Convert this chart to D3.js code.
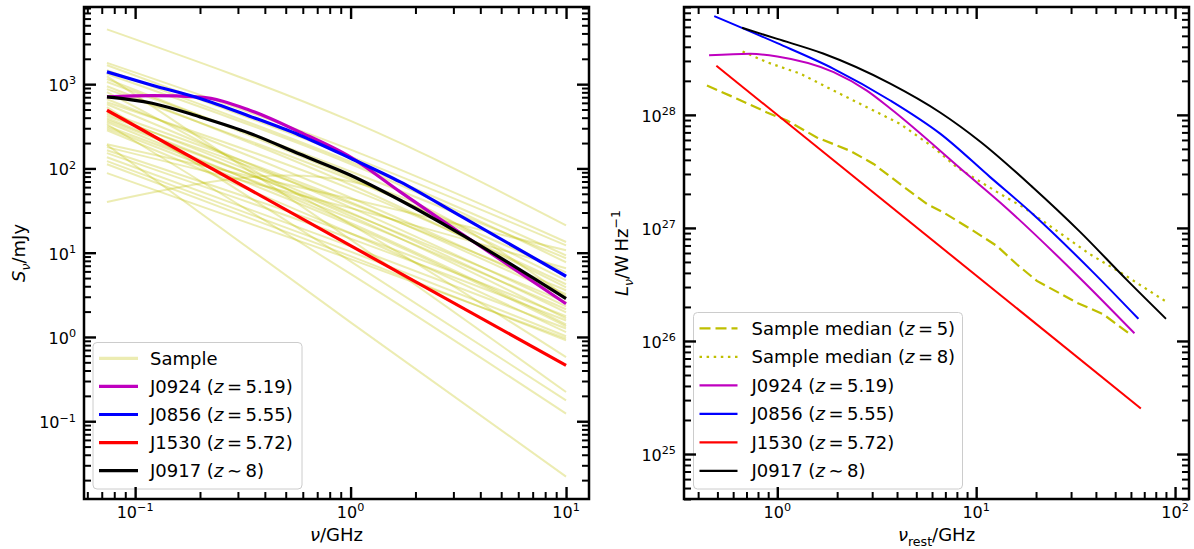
<!DOCTYPE html>
<html>
<head>
<meta charset="utf-8">
<script src="https://cdn.jsdelivr.net/npm/d3@7"></script>
<style>
body { margin: 0; background: #fff; }
svg text { font-family: "DejaVu Sans", sans-serif; fill: #000; }
</style>
</head>
<body>
<div id="chart"></div>
<script>
// ---- left panel: observed-frame flux density (mJy) vs frequency (GHz)
var obsFreq   = [0.074, 0.12, 0.2, 0.34, 0.58, 1, 1.7, 3.2, 10];
var fluxJ0924 = [706, 730, 701, 491, 271, 136, 52.6, 17.5, 2.48];
var fluxJ0856 = [1400, 973, 676, 417, 248, 132, 69.2, 27.7, 5.25];
var fluxJ0917 = [706, 594, 409, 262, 148, 83, 41.9, 17.0, 2.85];
var freqJ1530 = [0.074, 10];
var fluxJ1530 = [490, 0.46];

// sample sources, flux at sampleFreq
var sampleFreq = [0.074, 1, 10];
var sampleFlux = [
    [4470, 366, 21.1], [190, 1.49, 0.022], [40, 70, 3.0],
    [1790, 167, 13.4], [1680, 138, 12.2], [1470, 120, 9.3],
    [1320, 113, 7.7], [1240, 14.3, 0.222], [1150, 78, 4.7],
    [1060, 92, 8.6], [946, 64, 3.88], [873, 74, 5.85],
    [804, 21.7, 0.577], [664, 44.9, 3.21], [611, 57.3, 4.22],
    [578, 34.5, 2.31], [533, 7.9, 0.177], [465, 39.8, 2.95],
    [441, 29.9, 1.96], [417, 38.3, 3.58], [394, 27.2, 1.66],
    [373, 29.1, 2.58], [354, 22.6, 1.41], [335, 5.6, 0.123],
    [317, 25.5, 2.13], [300, 21.3, 1.34], [284, 17.0, 1.14],
    [194, 43.6, 10.7], [179, 33.8, 6.53], [164, 16.9, 1.76],
    [152, 14.7, 1.57], [136, 11.9, 1.26], [122, 10.3, 1.02],
    [112, 9.1, 0.91], [88, 8.4, 0.96]
];

// ---- right panel: rest-frame luminosity (W/Hz) vs rest frequency (GHz)
var restJ0924 = [0.454, 0.732, 1.0, 1.92, 2.82, 3.70, 8.98, 13.2, 33.1, 62.5];
var lumJ0924  = [3.36e28, 3.47e28, 3.29e28, 2.39e28, 1.64e28, 1.14e28, 3.00e27, 1.68e27, 3.63e26, 1.17e26];
var restJ0856 = [0.482, 1.0, 1.91, 3.70, 6.59, 11.8, 18.7, 38.1, 65.4];
var lumJ0856  = [7.48e28, 4.31e28, 2.57e28, 1.34e28, 6.82e27, 2.80e27, 1.39e27, 4.17e26, 1.57e26];
var restJ1530 = [0.494, 67.3];
var lumJ1530  = [2.72e28, 2.53e25];
var restJ0917 = [0.665, 1.0, 1.70, 3.70, 6.59, 10.5, 19.3, 33.3, 57.2, 90.1];
var lumJ0917  = [5.89e28, 4.70e28, 3.49e28, 1.89e28, 1.05e28, 5.79e27, 2.28e27, 9.23e26, 3.47e26, 1.57e26];
var restMedZ5 = [0.443, 0.627, 0.888, 1.12, 1.58, 2.33, 3.05, 4.15, 5.65, 6.85, 9.69, 12.7, 16.0, 20.2, 32.1, 43.6, 59.4];
var lumMedZ5  = [1.82e28, 1.39e28, 1.05e28, 8.90e27, 6.32e27, 4.80e27, 3.68e27, 2.44e27, 1.63e27, 1.37e27, 9.42e26, 6.93e26, 4.77e26, 3.40e26, 2.18e26, 1.72e26, 1.15e26];
var restMedZ8 = [0.669, 0.888, 1.31, 1.92, 2.82, 4.15, 6.1, 8.0, 13.2, 17.3, 37.3, 55, 89];
var lumMedZ8  = [3.64e28, 2.92e28, 2.31e28, 1.64e28, 1.17e28, 8.32e27, 5.16e27, 3.43e27, 2.00e27, 1.52e27, 5.86e26, 3.89e26, 2.26e26];
var lumLimits = [4e24, 9e28];

var W = 1194, H = 549;
var boxL = {left: 84, right: 589, top: 7, bottom: 499};
var boxR = {left: 684, right: 1189, top: 7, bottom: 499};

var svg = d3.select("#chart").append("svg")
    .attr("width", W)
    .attr("height", H);

function padLog(ext, frac) {
    var a = Math.log10(ext[0]), b = Math.log10(ext[1]);
    var p = (b - a) * frac;
    return [Math.pow(10, a - p), Math.pow(10, b + p)];
}

function logTicks(domain) {
    var major = [], minor = [];
    var k0 = Math.floor(Math.log10(domain[0])), k1 = Math.ceil(Math.log10(domain[1]));
    for (var k = k0; k <= k1; k++) {
        for (var m = 1; m < 10; m++) {
            var v = m * Math.pow(10, k);
            if (v < domain[0] * 0.9999 || v > domain[1] * 1.0001) continue;
            if (m == 1) major.push(v); else minor.push(v);
        }
    }
    return {major: major, minor: minor};
}

// text made of pieces: {t, it, sub, sup}
function addRich(textSel, parts, fs) {
    var shift = 0;
    parts.forEach(function(p) {
        var target = p.sup ? -0.42 * fs : (p.sub ? 0.25 * fs : 0);
        var ts = textSel.append("tspan")
            .text(p.t)
            .attr("dy", target - shift)
            .attr("font-size", (p.sup || p.sub) ? fs * 0.7 : fs);
        if (p.it) ts.attr("font-style", "italic");
        shift = target;
    });
}

function powLabel(v) {
    var e = Math.round(Math.log10(v));
    return [{t: "10"}, {t: String(e).replace("-", "\u2212"), sup: true}];
}

function drawTicks(g, x, y, box) {
    var xt = logTicks(x.domain()), yt = logTicks(y.domain());
    var sets = [
        [d3.axisBottom(x), box.bottom, xt, "x"],
        [d3.axisTop(x), box.top, xt, "x"],
        [d3.axisLeft(y), box.left, yt, "y"],
        [d3.axisRight(y), box.right, yt, "y"]
    ];
    sets.forEach(function(s) {
        var tr = s[3] == "x" ? "translate(0," + s[1] + ")" : "translate(" + s[1] + ",0)";
        var ax = s[0];
        g.append("g").attr("transform", tr)
            .call(ax.tickValues(s[2].minor).tickSize(-7).tickSizeOuter(0).tickFormat(""))
            .call(function(a) { a.select(".domain").remove(); })
            .selectAll(".tick line").attr("stroke", "#000").attr("stroke-width", 2);
        g.append("g").attr("transform", tr)
            .call(ax.tickValues(s[2].major).tickSize(-12).tickSizeOuter(0).tickFormat(""))
            .call(function(a) { a.select(".domain").remove(); })
            .selectAll(".tick line").attr("stroke", "#000").attr("stroke-width", 2.4);
    });

    // tick labels
    xt.major.forEach(function(v) {
        var t = g.append("text")
            .attr("x", x(v))
            .attr("y", box.bottom + 19)
            .attr("text-anchor", "middle")
            .attr("font-size", 16);
        addRich(t, powLabel(v), 16);
    });
    yt.major.forEach(function(v) {
        var t = g.append("text")
            .attr("x", box.left - 8)
            .attr("y", y(v) + 7)
            .attr("text-anchor", "end")
            .attr("font-size", 16);
        addRich(t, powLabel(v), 16);
    });

    g.append("rect")
        .attr("x", box.left)
        .attr("y", box.top)
        .attr("width", box.right - box.left)
        .attr("height", box.bottom - box.top)
        .attr("fill", "none")
        .attr("stroke", "#000")
        .attr("stroke-width", 2.5);
}

function drawSeries(g, x, y, xs, ys, style, curve) {
    var pts = xs.map(function(d, i) { return [d, ys[i]]; });
    var line = d3.line()
        .x(function(d) { return x(d[0]); })
        .y(function(d) { return y(d[1]); })
        .curve(curve || d3.curveMonotoneX);
    var p = g.append("path")
        .datum(pts)
        .attr("fill", "none")
        .attr("stroke", style.color)
        .attr("stroke-width", style.width)
        .attr("stroke-linecap", "butt")
        .attr("d", line);
    if (style.dash) p.attr("stroke-dasharray", style.dash);
    if (style.opacity) p.attr("stroke-opacity", style.opacity);
    return p;
}

function drawLegend(g, box, items, handle, textX, rowY) {
    g.append("rect")
        .attr("x", box.x).attr("y", box.y)
        .attr("width", box.w).attr("height", box.h)
        .attr("rx", 4)
        .attr("fill", "#fff").attr("fill-opacity", 0.8)
        .attr("stroke", "#cccccc").attr("stroke-width", 1);
    items.forEach(function(it, i) {
        var yy = rowY[0] + i * rowY[1];
        var l = g.append("line")
            .attr("x1", handle[0]).attr("x2", handle[1])
            .attr("y1", yy).attr("y2", yy)
            .attr("stroke", it.color)
            .attr("stroke-width", it.width);
        if (it.dash) l.attr("stroke-dasharray", it.dash);
        if (it.opacity) l.attr("stroke-opacity", it.opacity);
        var t = g.append("text")
            .attr("x", textX)
            .attr("y", yy + 6.5)
            .attr("font-size", 18);
        addRich(t, it.label, 18);
    });
}

function zLabel(name, rel, val) {
    return [{t: name + " ("}, {t: "z", it: true}, {t: "\u2009" + rel + "\u2009" + val + ")"}];
}

// ---------------- left panel
var gL = svg.append("g");
var allFlux = d3.merge([fluxJ0924, fluxJ0856, fluxJ0917, fluxJ1530, d3.merge(sampleFlux)]);
var xL = d3.scaleLog().domain(padLog([0.074, 10], 0.05)).range([boxL.left, boxL.right]);
var yL = d3.scaleLog().domain(padLog(d3.extent(allFlux), 0.05)).range([boxL.bottom, boxL.top]);

var sampleStyle = {color: "#bfbf00", width: 2, opacity: 0.3};
sampleFlux.forEach(function(s) {
    drawSeries(gL, xL, yL, sampleFreq, s, sampleStyle, d3.curveNatural);
});
drawSeries(gL, xL, yL, obsFreq, fluxJ0924, {color: "#bf00bf", width: 3.2});
drawSeries(gL, xL, yL, obsFreq, fluxJ0856, {color: "#0000ff", width: 3.2});
drawSeries(gL, xL, yL, freqJ1530, fluxJ1530, {color: "#ff0000", width: 3.2}, d3.curveLinear);
drawSeries(gL, xL, yL, obsFreq, fluxJ0917, {color: "#000000", width: 3.2});

drawLegend(gL, {x: 93, y: 342.5, w: 209, h: 146.5}, [
    {color: "#bfbf00", width: 3.2, opacity: 0.3, label: [{t: "Sample"}]},
    {color: "#bf00bf", width: 3.2, label: zLabel("J0924", "=", "5.19")},
    {color: "#0000ff", width: 3.2, label: zLabel("J0856", "=", "5.55")},
    {color: "#ff0000", width: 3.2, label: zLabel("J1530", "=", "5.72")},
    {color: "#000000", width: 3.2, label: zLabel("J0917", "\u223c", "8")}
], [99, 138], 150, [358.3, 28.1]);

drawTicks(gL, xL, yL, boxL);

var ylabL = gL.append("text")
    .attr("transform", "translate(25," + ((boxL.top + boxL.bottom) / 2) + ") rotate(-90)")
    .attr("text-anchor", "middle")
    .attr("font-size", 18);
addRich(ylabL, [{t: "S", it: true}, {t: "\u03bd", it: true, sub: true}, {t: "/mJy"}], 18);

var xlabL = gL.append("text")
    .attr("x", (boxL.left + boxL.right) / 2)
    .attr("y", 541)
    .attr("text-anchor", "middle")
    .attr("font-size", 18);
addRich(xlabL, [{t: "\u03bd", it: true}, {t: "/GHz"}], 18);

// ---------------- right panel
var gR = svg.append("g");
var allRest = d3.merge([restJ0924, restJ0856, restJ1530, restJ0917, restMedZ5, restMedZ8]);
var xR = d3.scaleLog().domain(padLog(d3.extent(allRest), 0.05)).range([boxR.left, boxR.right]);
var yR = d3.scaleLog().domain(lumLimits).range([boxR.bottom, boxR.top]);

drawSeries(gR, xR, yR, restMedZ5, lumMedZ5, {color: "#bfbf00", width: 2.2, dash: "11,5"}, d3.curveLinear);
drawSeries(gR, xR, yR, restMedZ8, lumMedZ8, {color: "#bfbf00", width: 2.2, dash: "2.5,4.6"}, d3.curveLinear);
drawSeries(gR, xR, yR, restJ0924, lumJ0924, {color: "#bf00bf", width: 2});
drawSeries(gR, xR, yR, restJ0856, lumJ0856, {color: "#0000ff", width: 2});
drawSeries(gR, xR, yR, restJ1530, lumJ1530, {color: "#ff0000", width: 2}, d3.curveLinear);
drawSeries(gR, xR, yR, restJ0917, lumJ0917, {color: "#000000", width: 2});

drawLegend(gR, {x: 693.5, y: 312.5, w: 269, h: 176.5}, [
    {color: "#bfbf00", width: 2.2, dash: "11,5", label: [{t: "Sample median ("}, {t: "z", it: true}, {t: "\u2009=\u20095)"}]},
    {color: "#bfbf00", width: 2.2, dash: "2.5,4.6", label: [{t: "Sample median ("}, {t: "z", it: true}, {t: "\u2009=\u20098)"}]},
    {color: "#bf00bf", width: 2.2, label: zLabel("J0924", "=", "5.19")},
    {color: "#0000ff", width: 2.2, label: zLabel("J0856", "=", "5.55")},
    {color: "#ff0000", width: 2.2, label: zLabel("J1530", "=", "5.72")},
    {color: "#000000", width: 2.2, label: zLabel("J0917", "\u223c", "8")}
], [699.5, 737.5], 751.5, [328.3, 28.5]);

drawTicks(gR, xR, yR, boxR);

var ylabR = gR.append("text")
    .attr("transform", "translate(628," + ((boxR.top + boxR.bottom) / 2) + ") rotate(-90)")
    .attr("text-anchor", "middle")
    .attr("font-size", 18);
addRich(ylabR, [{t: "L", it: true}, {t: "\u03bd", it: true, sub: true}, {t: "/W\u2009Hz"}, {t: "\u22121", sup: true}], 18);

var xlabR = gR.append("text")
    .attr("x", (boxR.left + boxR.right) / 2)
    .attr("y", 541)
    .attr("text-anchor", "middle")
    .attr("font-size", 18);
addRich(xlabR, [{t: "\u03bd", it: true}, {t: "rest", sub: true}, {t: "/GHz"}], 18);
</script>
</body>
</html>
